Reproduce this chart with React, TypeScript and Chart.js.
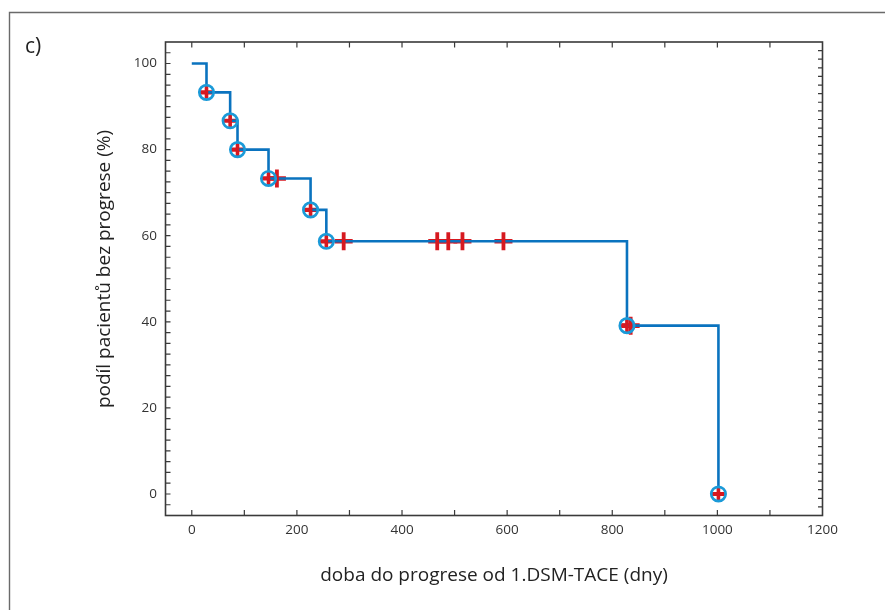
import React, { useEffect, useRef } from "react";
import { Chart, registerables } from "chart.js";

Chart.register(...registerables);

// Kaplan–Meier curve (days, % without progression)
const stepDays = [0, 28, 73, 87, 146, 226, 256, 828, 1002];
const stepSurvival = [100, 93.3, 86.7, 80.0, 73.3, 66.0, 58.7, 39.1, 0];
// events (circled)
const eventDays = [28, 73, 87, 146, 226, 256, 828, 1002];
const eventSurvival = [93.3, 86.7, 80.0, 73.3, 66.0, 58.7, 39.1, 0];
// censored observations
const censorDays = [162, 289, 467, 488, 515, 593, 835];
const censorSurvival = [73.3, 58.7, 58.7, 58.7, 58.7, 58.7, 39.1];

const xTickLabels = [0, 200, 400, 600, 800, 1000, 1200];
const yTickLabels = [0, 20, 40, 60, 80, 100];
const xMinorTicks = [0, 100, 200, 300, 400, 500, 600, 700, 800, 900, 1000, 1100];
const yLeftMinorStep = 2.5;
const yRightMinorStep = 2;

const X_MIN = -50;
const X_MAX = 1200;
const Y_MIN = -5;
const Y_MAX = 105;

const xTitle = "doba do progrese od 1.DSM-TACE (dny)";
const yTitle = "podíl pacientů bez progrese (%)";
const panelLabel = "c)";

const FONT = "'Open Sans', 'DejaVu Sans', sans-serif";
const LINE_BLUE = "#0a73bf";
const CIRCLE_BLUE = "#1b9ad8";
const RED = "#d71920";

function range(a: number, b: number, step: number) {
  const out: number[] = [];
  for (let v = a; v <= b + 1e-9; v += step) out.push(Math.round(v * 100) / 100);
  return out;
}

const decorPlugin = {
  id: "decor",
  afterDraw(chart: any) {
    const { ctx, chartArea: a, scales } = chart;
    const x = scales.x;
    const y = scales.y;
    ctx.save();
    // outer frame (top + left)
    ctx.strokeStyle = "#6a6a6a";
    ctx.lineWidth = 1.4;
    ctx.beginPath();
    ctx.moveTo(9.5, 610);
    ctx.lineTo(9.5, 12.5);
    ctx.lineTo(885, 12.5);
    ctx.stroke();

    // axis box
    ctx.strokeStyle = "#3a3a3a";
    ctx.lineWidth = 1.6;
    ctx.strokeRect(a.left, a.top, a.right - a.left, a.bottom - a.top);

    // inward ticks
    ctx.lineWidth = 1.2;
    ctx.beginPath();
    for (const v of xMinorTicks) {
      const px = x.getPixelForValue(v);
      ctx.moveTo(px, a.bottom);
      ctx.lineTo(px, a.bottom - 5.5);
      ctx.moveTo(px, a.top);
      ctx.lineTo(px, a.top + 5.5);
    }
    for (const v of range(-2.5, 102.5, yLeftMinorStep)) {
      const py = y.getPixelForValue(v);
      ctx.moveTo(a.left, py);
      ctx.lineTo(a.left + 5, py);
    }
    for (const v of range(-3, 103, yRightMinorStep)) {
      const py = y.getPixelForValue(v);
      ctx.moveTo(a.right, py);
      ctx.lineTo(a.right - 4.5, py);
    }
    ctx.stroke();

    // panel label
    ctx.fillStyle = "#222";
    ctx.font = `21px ${FONT}`;
    ctx.textAlign = "left";
    ctx.textBaseline = "middle";
    ctx.fillText(panelLabel, 25, 47);

    // y title
    ctx.translate(105, 269);
    ctx.rotate(-Math.PI / 2);
    ctx.textAlign = "center";
    ctx.font = `19px ${FONT}`;
    ctx.fillText(yTitle, 0, 0);
    ctx.restore();
  },
};

function pts(xs: number[], ys: number[]) {
  return xs.map((v, i) => ({ x: v, y: ys[i] }));
}

export default function App() {
  const ref = useRef<HTMLCanvasElement | null>(null);
  useEffect(() => {
    if (!ref.current) return;
    const arm = (
      data: any,
      radius: number,
      width: number,
      rotation: number,
      order: number
    ) => ({
      data,
      showLine: false,
      pointStyle: "line",
      pointRadius: radius,
      pointHoverRadius: radius,
      pointBorderWidth: width,
      pointBorderColor: RED,
      pointBackgroundColor: RED,
      pointRotation: rotation,
      order,
    });
    const chart = new Chart(ref.current, {
      type: "scatter",
      data: {
        datasets: [
          {
            data: pts(stepDays, stepSurvival),
            showLine: true,
            stepped: "before",
            borderColor: LINE_BLUE,
            borderWidth: 2.6,
            pointRadius: 0,
            fill: false,
            order: 2,
          } as any,
          arm(pts(eventDays, eventSurvival), 6.5, 4.2, 0, 3),
          arm(pts(censorDays, censorSurvival), 9, 4.6, 0, 3),
          arm(pts(eventDays, eventSurvival), 6.5, 3.6, 90, 1),
          arm(pts(censorDays, censorSurvival), 9, 3.8, 90, 1),
          {
            data: pts(eventDays, eventSurvival),
            showLine: false,
            pointStyle: "circle",
            pointRadius: 7.2,
            pointBorderWidth: 2.7,
            pointBorderColor: CIRCLE_BLUE,
            pointBackgroundColor: "rgba(0,0,0,0)",
            order: 0,
          },
        ],
      },
      options: {
        responsive: false,
        animation: false,
        devicePixelRatio: 1,
        layout: { padding: { left: 0, top: 42, right: 62.5, bottom: 0 } },
        plugins: {
          legend: { display: false },
          tooltip: { enabled: false },
        },
        scales: {
          x: {
            type: "linear",
            position: "bottom",
            min: X_MIN,
            max: X_MAX,
            grid: { display: false, drawTicks: false },
            border: { display: false },
            afterBuildTicks: (s: any) => {
              s.ticks = xTickLabels.map((v) => ({ value: v }));
            },
            afterFit: (s: any) => {
              s.height = 94.5;
            },
            ticks: {
              padding: 7,
              color: "#333",
              font: { family: FONT, size: 13.5 },
              maxRotation: 0,
              autoSkip: false,
              callback: (v: any) => String(v),
            },
            title: {
              display: true,
              text: xTitle,
              color: "#222",
              font: { family: FONT, size: 19 },
              padding: { top: 0, bottom: 23 },
            },
          },
          y: {
            type: "linear",
            position: "left",
            min: Y_MIN,
            max: Y_MAX,
            grid: { display: false, drawTicks: false },
            border: { display: false },
            afterBuildTicks: (s: any) => {
              s.ticks = yTickLabels.map((v) => ({ value: v }));
            },
            afterFit: (s: any) => {
              s.width = 165.5;
            },
            ticks: {
              padding: 8.5,
              color: "#333",
              font: { family: FONT, size: 13.5 },
              autoSkip: false,
              callback: (v: any) => String(v),
            },
          },
        },
      },
      plugins: [decorPlugin],
    } as any);
    return () => chart.destroy();
  }, []);
  return (
    <div style={{ position: "absolute", left: 0, top: 0, width: 885, height: 610, background: "#fff" }}>
      <canvas ref={ref} width={885} height={610} style={{ display: "block" }} />
    </div>
  );
}
